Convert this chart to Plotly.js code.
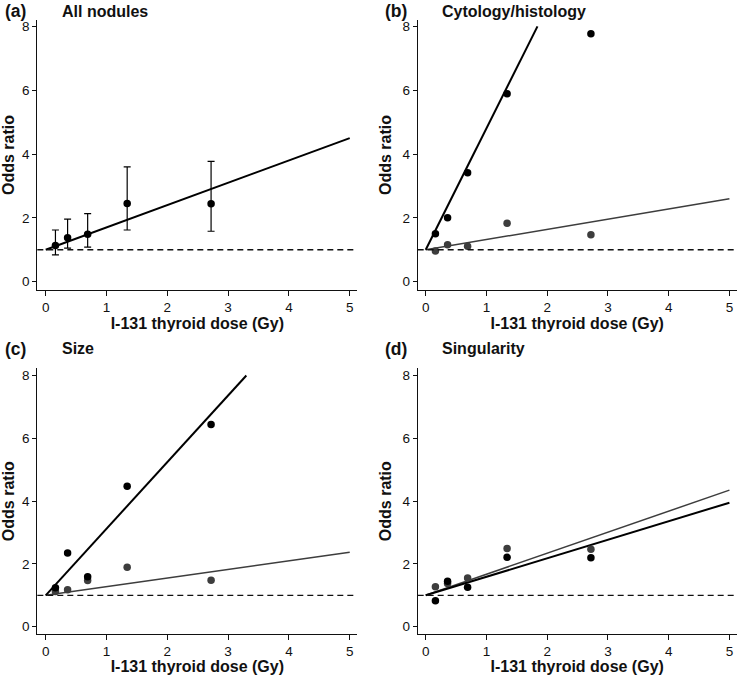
<!DOCTYPE html>
<html>
<head>
<meta charset="utf-8">
<script src="https://cdn.plot.ly/plotly-3.0.1.min.js"></script>
<style>
  body { margin: 0; background: #fff; }
  #chart { width: 739px; height: 675px; }
</style>
</head>
<body>
<div id="chart"></div>
<script>
// dose categories (Gy), shared by all panels
var dose = [0.16, 0.36, 0.69, 1.34, 2.72];

// (a) all nodules, with 95% CI
var orAll = [1.13, 1.38, 1.49, 2.45, 2.44];
var ciLowAll = [0.84, 1.05, 1.08, 1.62, 1.58];
var ciHighAll = [1.62, 1.96, 2.13, 3.6, 3.77];
var fitAllX = [0, 5];
var fitAllY = [1, 4.5];

// (b) cytology/histology
var orCytoBlack = [1.5, 2.0, 3.41, 5.89, 7.77];
var orCytoGray = [0.96, 1.16, 1.11, 1.83, 1.47];
var fitCytoBlackX = [0, 1.84];
var fitCytoBlackY = [1, 8];
var fitCytoGrayX = [0, 5];
var fitCytoGrayY = [1, 2.6];

// (c) size
var orSizeBlack = [1.24, 2.35, 1.59, 4.47, 6.44];
var orSizeGray = [1.12, 1.18, 1.47, 1.89, 1.48];
var fitSizeBlackX = [0, 3.3];
var fitSizeBlackY = [1, 8];
var fitSizeGrayX = [0, 5];
var fitSizeGrayY = [1, 2.37];

// (d) singularity
var orSingBlack = [0.83, 1.45, 1.26, 2.21, 2.2];
var orSingGray = [1.27, 1.38, 1.55, 2.49, 2.47];
var fitSingBlackX = [0, 5];
var fitSingBlackY = [1, 3.95];
var fitSingGrayX = [0, 5];
var fitSingGrayY = [1, 4.35];

var panelLetters = ["(a)", "(b)", "(c)", "(d)"];
var panelTitles = ["All nodules", "Cytology/histology", "Size", "Singularity"];

var FONT = "Liberation Sans, Arial, sans-serif";
var BLACK = "#000000";
var GRAY = "#3d3d3d";

function dots(y, color, ax) {
  return {
    x: dose, y: y, mode: "markers", type: "scatter",
    xaxis: "x" + ax, yaxis: "y" + ax,
    marker: { color: color, size: 7.5 },
    hoverinfo: "x+y"
  };
}
function fit(x, y, color, w, ax) {
  return {
    x: x, y: y, mode: "lines", type: "scatter",
    xaxis: "x" + ax, yaxis: "y" + ax,
    line: { color: color, width: w },
    hoverinfo: "skip"
  };
}

var errPlus = ciHighAll.map(function (v, i) { return v - orAll[i]; });
var errMinus = orAll.map(function (v, i) { return v - ciLowAll[i]; });

var data = [
  fit(fitAllX, fitAllY, BLACK, 2, ""),
  {
    x: dose, y: orAll, mode: "markers", type: "scatter",
    xaxis: "x", yaxis: "y",
    marker: { color: BLACK, size: 7.5 },
    error_y: { type: "data", symmetric: false, array: errPlus, arrayminus: errMinus,
               color: BLACK, thickness: 1.2, width: 3.5 }
  },
  fit(fitCytoGrayX, fitCytoGrayY, GRAY, 1.5, "2"),
  fit(fitCytoBlackX, fitCytoBlackY, BLACK, 2, "2"),
  dots(orCytoGray, GRAY, "2"),
  dots(orCytoBlack, BLACK, "2"),
  fit(fitSizeGrayX, fitSizeGrayY, GRAY, 1.5, "3"),
  fit(fitSizeBlackX, fitSizeBlackY, BLACK, 2, "3"),
  dots(orSizeGray, GRAY, "3"),
  dots(orSizeBlack, BLACK, "3"),
  fit(fitSingGrayX, fitSingGrayY, GRAY, 1.5, "4"),
  fit(fitSingBlackX, fitSingBlackY, BLACK, 2, "4"),
  dots(orSingGray, GRAY, "4"),
  dots(orSingBlack, BLACK, "4")
];

function xAxis(domain, anchor, range) {
  return {
    domain: domain, anchor: anchor, range: range,
    showgrid: false, zeroline: false, showline: true, linecolor: "#111", linewidth: 1,
    ticks: "outside", ticklen: 5, tickcolor: "#111", tickwidth: 1,
    tickvals: [0, 1, 2, 3, 4, 5],
    tickfont: { family: FONT, size: 13.5, color: "#111" },
    title: { text: "I-131 thyroid dose (Gy)", standoff: 2,
             font: { family: FONT, size: 16, weight: "bold", color: "#111" } },
    fixedrange: true
  };
}
function yAxis(domain, anchor, range) {
  return {
    domain: domain, anchor: anchor, range: range,
    showgrid: false, zeroline: false, showline: true, linecolor: "#111", linewidth: 1,
    ticks: "outside", ticklen: 4, tickcolor: "#111", tickwidth: 1,
    tickvals: [0, 2, 4, 6, 8],
    tickfont: { family: FONT, size: 13.5, color: "#111" },
    title: { text: "Odds ratio", standoff: 6,
             font: { family: FONT, size: 16, weight: "bold", color: "#111" } },
    fixedrange: true
  };
}

var leftDom = [0.0505, 0.4835];
var rightDom = [0.5652, 0.9969];
var topDom = [0.5704, 0.9704];
var botDom = [0.0603, 0.4548];

var annotations = [];
var letterPos = [[0.004, 0.9835], [0.5187, 0.9835], [0.004, 0.483], [0.5187, 0.483]];
var titlePos = [0.0812, 0.5954, 0.0812, 0.5954];
for (var i = 0; i < 4; i++) {
  annotations.push({
    xref: "paper", yref: "paper", x: letterPos[i][0], y: letterPos[i][1],
    xanchor: "left", yanchor: "middle", showarrow: false, text: panelLetters[i],
    font: { family: FONT, size: 17.5, weight: "bold", color: "#111" }
  });
  annotations.push({
    xref: "paper", yref: "paper", x: titlePos[i], y: letterPos[i][1],
    xanchor: "left", yanchor: "middle", showarrow: false, text: panelTitles[i],
    font: { family: FONT, size: 16, weight: "bold", color: "#111" }
  });
}

var shapes = ["", "2", "3", "4"].map(function (ax) {
  return {
    type: "line", xref: "x" + ax + " domain", yref: "y" + ax,
    x0: 0, x1: 1, y0: 1, y1: 1,
    line: { color: "#111", width: 1.3, dash: "6px,4px" }
  };
});

var layout = {
  width: 739, height: 675,
  margin: { l: 0, r: 0, t: 0, b: 0 },
  paper_bgcolor: "#fff", plot_bgcolor: "#fff",
  showlegend: false,
  font: { family: FONT, color: "#111" },
  xaxis: xAxis(leftDom, "y", [-0.138, 5.125]),
  yaxis: yAxis(topDom, "x", [-0.26, 8.2]),
  xaxis2: xAxis(rightDom, "y2", [-0.132, 5.12]),
  yaxis2: yAxis(topDom, "x2", [-0.26, 8.2]),
  xaxis3: xAxis(leftDom, "y3", [-0.138, 5.125]),
  yaxis3: yAxis(botDom, "x3", [-0.242, 8.24]),
  xaxis4: xAxis(rightDom, "y4", [-0.132, 5.12]),
  yaxis4: yAxis(botDom, "x4", [-0.242, 8.24]),
  annotations: annotations,
  shapes: shapes
};

Plotly.newPlot("chart", data, layout, { displayModeBar: false, staticPlot: true });
</script>
</body>
</html>
